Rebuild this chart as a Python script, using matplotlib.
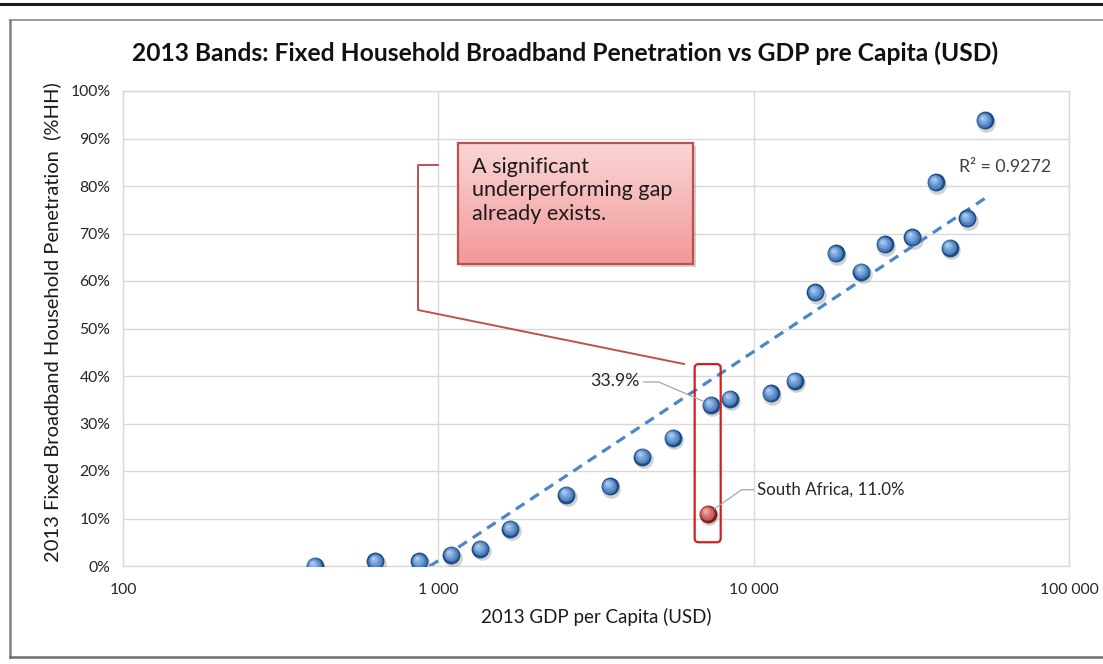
import numpy as np
import matplotlib
matplotlib.use("Agg")
import matplotlib.pyplot as plt
from matplotlib.lines import Line2D
from matplotlib.patches import Rectangle, FancyBboxPatch
from matplotlib.transforms import offset_copy
from matplotlib.ticker import FixedLocator, FixedFormatter, NullLocator

plt.rcParams['font.family'] = ['Lato', 'DejaVu Sans']

# ---------------- data ----------------
gdp = [405, 632, 871, 1099, 1358, 1690, 2543, 3500, 4426, 5546, 7310, 8400,
       11320, 13490, 15670, 18180, 21970, 26000, 31790, 37840, 41800, 47530, 54080]
penetration = [0.0, 1.0, 1.0, 2.3, 3.6, 7.8, 15.0, 16.8, 23.0, 27.0, 33.9, 35.2,
               36.4, 39.0, 57.6, 65.8, 62.0, 67.7, 69.2, 80.8, 67.0, 73.2, 93.8]
sa_gdp = [7140]
sa_pen = [11.0]
sa_label = "South Africa, 11.0%"
peer_label = "33.9%"
peer_index = 10
r2_text = "R² = 0.9272"
x_ticks = [100, 1000, 10000, 100000]
x_tick_labels = ["100", "1 000", "10 000", "100 000"]
y_ticks = list(range(0, 101, 10))
y_tick_labels = [f"{v}%" for v in y_ticks]
sa_box_x = (6500, 7860)
sa_box_y = (5.0, 42.5)
title = "2013 Bands: Fixed Household Broadband Penetration vs GDP pre Capita (USD)"
xlabel = "2013 GDP per Capita (USD)"
ylabel = "2013 Fixed Broadband Household Penetration  (%HH)"
callout = "A significant\nunderperforming gap\nalready exists."

W, H = 1103, 664
fig = plt.figure(figsize=(W / 100, H / 100), dpi=100)
fig.patch.set_facecolor('white')

def fx(px):
    return px / W

def fy(py):
    return 1 - py / H

ax = fig.add_axes([fx(123), fy(566), fx(1069) - fx(123), fy(91) - fy(566)])
ax.set_xscale('log')
ax.set_xlim(100, 100000)
ax.set_ylim(0, 100)
ax.xaxis.set_major_locator(FixedLocator(x_ticks))
ax.xaxis.set_major_formatter(FixedFormatter(x_tick_labels))
ax.xaxis.set_minor_locator(NullLocator())
ax.yaxis.set_major_locator(FixedLocator(y_ticks))
ax.yaxis.set_major_formatter(FixedFormatter(y_tick_labels))
ax.grid(True, color='#D9D9D9', lw=1.0, zorder=0)
ax.set_axisbelow(True)
for s in ax.spines.values():
    s.set_color('#D9D9D9')
    s.set_linewidth(1.0)
ax.tick_params(axis='both', length=0, labelsize=11.3, colors='#262626')
ax.tick_params(axis='x', pad=12)
ax.tick_params(axis='y', pad=9)
ax.set_xlabel(xlabel, fontsize=13.5, color='#1a1a1a', labelpad=8)
ax.set_ylabel(ylabel, fontsize=14.5, color='#1a1a1a')
ax.yaxis.set_label_coords(-0.0655, 0.514)

# trendline (logarithmic fit)
lx = np.log10(np.array(gdp, dtype=float))
coef = np.polyfit(lx, np.array(penetration), 1)
tx = np.logspace(lx.min(), lx.max(), 200)
ty = np.polyval(coef, np.log10(tx))
ax.plot(tx, ty, color='#4A86C8', lw=2.3, ls=(0, (3.2, 2.2)), zorder=3,
        solid_capstyle='butt', dash_capstyle='butt')

# spheres
def spheres(xs, ys, base, dark, light, z):
    sh = offset_copy(ax.transData, fig=fig, x=1.5, y=-2.5, units='dots')
    ax.scatter(xs, ys, s=180, color='#7f7f7f', alpha=0.35, lw=0, transform=sh, zorder=z)
    ax.scatter(xs, ys, s=165, color=dark, lw=0, zorder=z + 0.1)
    n = 5
    for i in range(n):
        t = (i + 1) / n
        c = np.array(matplotlib.colors.to_rgb(base)) * (1 - t) + np.array(matplotlib.colors.to_rgb(light)) * t
        tr = offset_copy(ax.transData, fig=fig, x=-2.4 * t, y=2.9 * t, units='dots')
        ax.scatter(xs, ys, s=148 * (1 - 0.85 * t) ** 1.6, color=c, lw=0,
                   transform=tr, zorder=z + 0.2 + 0.01 * i)

spheres(gdp, penetration, '#2E6AB1', '#1D4C86', '#A9C8EE', 4)
spheres(sa_gdp, sa_pen, '#B83A36', '#7E1E1C', '#F0A9A5', 4)

fig.canvas.draw()

def disp(x, y):
    return ax.transData.transform((x, y))

# red rounded rectangle around SA
p0 = disp(sa_box_x[0], sa_box_y[0])
p1 = disp(sa_box_x[1], sa_box_y[1])
rbox = FancyBboxPatch((p0[0], p0[1]), p1[0] - p0[0], p1[1] - p0[1],
                      boxstyle='round,pad=0,rounding_size=4', transform=None,
                      fill=False, ec='#D0201C', lw=1.6, zorder=6)
fig.add_artist(rbox)

# data labels with leader lines
pp = disp(gdp[peer_index], penetration[peer_index])
fig.add_artist(Line2D([pp[0] - 67, pp[0] - 52, pp[0] - 8], [pp[1] + 23, pp[1] + 23, pp[1] + 4],
                      transform=None, color='#A6A6A6', lw=0.9, zorder=6))
fig.text(pp[0] - 71, pp[1] + 24, peer_label, transform=None, ha='right', va='center',
         fontsize=12.8, color='#262626')
sp = disp(sa_gdp[0], sa_pen[0])
fig.add_artist(Line2D([sp[0] + 46, sp[0] + 34, sp[0] + 7], [sp[1] + 24, sp[1] + 24, sp[1] + 5],
                      transform=None, color='#A6A6A6', lw=0.9, zorder=6))
fig.text(sp[0] + 49, sp[1] + 24, sa_label, transform=None, ha='left', va='center',
         fontsize=12.2, color='#262626')

# R^2 label
ax.text(0.932, 0.84, r2_text, transform=ax.transAxes, ha='center', va='center',
        fontsize=12.8, color='#404040', zorder=6)

# callout box with gradient
bx0, bx1, by0, by1 = 458, 693, 264, 143
shadow = Rectangle((fx(bx0 + 3), fy(by0 + 3)), fx(bx1) - fx(bx0), fy(by1) - fy(by0),
                   transform=fig.transFigure, color='#000000', alpha=0.18, lw=0, zorder=1)
fig.add_artist(shadow)
bax = fig.add_axes([fx(bx0), fy(by0), fx(bx1) - fx(bx0), fy(by1) - fy(by0)], zorder=2)
grad = np.linspace(0, 1, 256).reshape(-1, 1)
top = np.array(matplotlib.colors.to_rgb('#FAD6D6'))
bot = np.array(matplotlib.colors.to_rgb('#F29898'))
img = top[None, None, :] * (1 - grad[:, :, None]) + bot[None, None, :] * grad[:, :, None]
bax.imshow(img, extent=[0, 1, 0, 1], aspect='auto', origin='upper')
bax.set_xlim(0, 1)
bax.set_ylim(0, 1)
bax.set_xticks([])
bax.set_yticks([])
for s in bax.spines.values():
    s.set_color('#C0504D')
    s.set_linewidth(1.6)
bax.text(0.06, 0.885, callout, ha='left', va='top', fontsize=15.6, color='#1a1a1a',
         linespacing=1.22, transform=bax.transAxes)

# callout connector line
cl_x = [438, 418, 418, 684]
cl_y = [165, 165, 310, 364]
fig.add_artist(Line2D([fx(v) for v in cl_x], [fy(v) for v in cl_y], transform=fig.transFigure,
                      color='#C0504D', lw=1.4, zorder=5))

# title
fig.text(fx(565), fy(53), title, ha='center', va='center', fontsize=17.7,
         fontweight='bold', color='#111111')

# frame lines
fig.add_artist(Line2D([0, 1], [fy(4), fy(4)], transform=fig.transFigure, color='#1a1a1a', lw=2.2))
fig.add_artist(Line2D([fx(10), 1], [fy(20), fy(20)], transform=fig.transFigure, color='#8c8c8c', lw=1.2))
fig.add_artist(Line2D([fx(10), fx(10)], [fy(20), fy(657)], transform=fig.transFigure, color='#7f7f7f', lw=1.8))
fig.add_artist(Line2D([fx(10), 1], [fy(657), fy(657)], transform=fig.transFigure, color='#6f6f6f', lw=1.8))

fig.savefig('out.png', dpi=100)
